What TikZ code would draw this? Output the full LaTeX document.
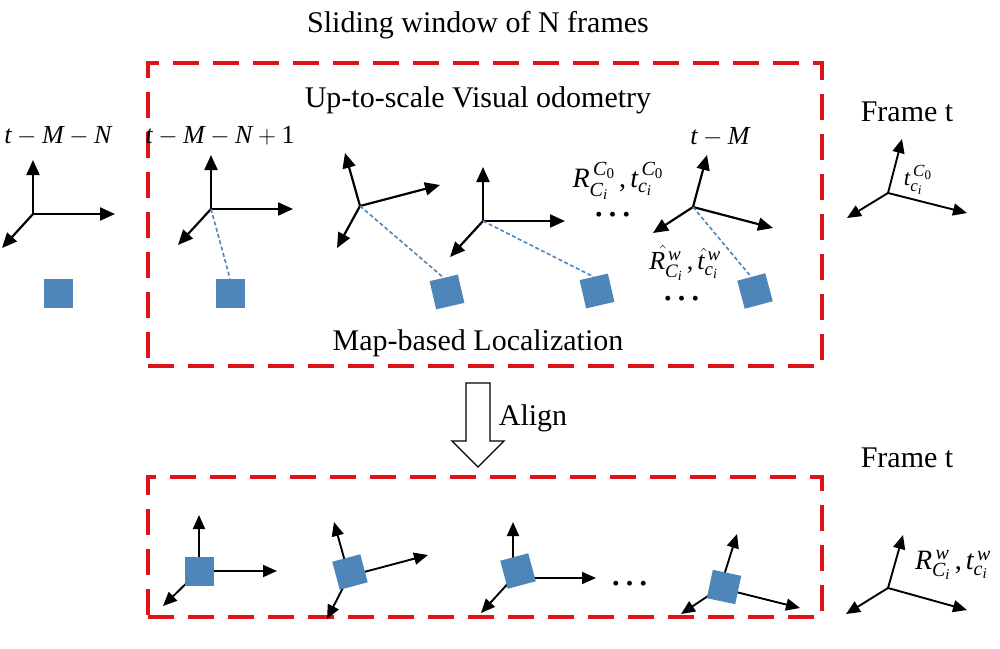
\documentclass[tikz,border=0pt]{standalone}
\usepackage{amsmath}
\usepackage{fontspec}
\setmainfont{Liberation Serif}
\usetikzlibrary{arrows.meta}
\definecolor{boxred}{RGB}{222,18,24}
\definecolor{sqblue}{RGB}{79,134,186}
\newcommand{\mv}[1]{\textit{#1}}
\DeclareMathSizes{28}{28}{20}{15}
\DeclareMathSizes{26}{26}{19}{14}
\DeclareMathSizes{23}{23}{17}{13}
\begin{document}
\begin{tikzpicture}[x=1pt,y=-1pt,
  ax/.style={line width=2.2pt,-{Triangle[length=15pt,width=13pt]}},
  axs/.style={line width=1.9pt,-{Triangle[length=14pt,width=12pt]}},
  sq/.style={fill=sqblue,minimum size=29pt,inner sep=0pt,outer sep=0pt},
  link/.style={sqblue,line width=1.6pt,dash pattern=on 4pt off 2.5pt},
  win/.style={draw=boxred,line width=3.5pt,dash pattern=on 26pt off 14pt,inner sep=0pt},
  txt/.style={font=\fontsize{30}{36}\selectfont,inner sep=0pt},
  lbl/.style={inner sep=0pt},
  dots/.style={font=\fontsize{41}{41}\selectfont,inner sep=0pt,text height=5pt,text depth=0pt}
]
\useasboundingbox (0,0) rectangle (1000,648);

% windows
\node[win,minimum width=674pt,minimum height=303pt] (win1) at (485,214.5) {};
\node[win,minimum width=674pt,minimum height=140pt] (win2) at (485,547) {};

% titles
\node[txt] (title) at (478,25) {Sliding window of N frames};
\node[txt] (vo) at (478,100) {Up-to-scale Visual odometry};
\node[txt] (mbl) at (478,343) {Map-based Localization};
\node[txt] (align) at (533,418) {Align};
\node[txt] (ft1) at (907,112) {Frame t};
\node[txt] (ft2) at (907,458) {Frame t};

% frame labels
\node[lbl,font=\fontsize{26}{30}\selectfont] (l0) at (58,136) {$\mv{t}-\mv{M}-\mv{N}$};
\node[lbl,font=\fontsize{26}{30}\selectfont] (l1) at (220,136) {$\mv{t}-\mv{M}-\mv{N}+\text{1}$};
\node[lbl,font=\fontsize{26}{30}\selectfont] (l4) at (720,137) {$\mv{t}-\mv{M}$};

% coordinates of frames
\coordinate (f0) at (33,214); \coordinate (f0y) at (33,160); \coordinate (f0x) at (115,214); \coordinate (f0z) at (2,248);
\coordinate (f1) at (211,209); \coordinate (f1y) at (211,155); \coordinate (f1x) at (293,209); \coordinate (f1z) at (178,245);
\coordinate (f2) at (360,206); \coordinate (f2y) at (345,153); \coordinate (f2x) at (440,185); \coordinate (f2z) at (337,248);
\coordinate (f3) at (483,221); \coordinate (f3y) at (483,167); \coordinate (f3x) at (565,221); \coordinate (f3z) at (450,257);
\coordinate (f4) at (693,207); \coordinate (f4y) at (707,155); \coordinate (f4x) at (773,228); \coordinate (f4z) at (653,233);
\coordinate (ft) at (888,193); \coordinate (fty) at (902,139); \coordinate (ftx) at (967,213); \coordinate (ftz) at (847,218);

\coordinate (b1) at (199,571); \coordinate (b1y) at (199,515); \coordinate (b1x) at (277,571); \coordinate (b1z) at (163,606);
\coordinate (b2) at (349,576); \coordinate (b2y) at (334,522); \coordinate (b2x) at (428,555); \coordinate (b2z) at (327,619);
\coordinate (b3) at (513,578); \coordinate (b3y) at (513,522); \coordinate (b3x) at (596,578); \coordinate (b3z) at (481,613);
\coordinate (b4) at (720,588); \coordinate (b4y) at (737,534); \coordinate (b4x) at (800,608); \coordinate (b4z) at (681,614);
\coordinate (bt) at (888,588); \coordinate (bty) at (903,535); \coordinate (btx) at (967,610); \coordinate (btz) at (846,614);

% top axes
\foreach \f in {f0,f1,f2,f3,f4}{
  \draw[ax] (\f) -- (\f y);
  \draw[ax] (\f) -- (\f x);
  \draw[ax] (\f) -- (\f z);
}
\draw[axs] (ft) -- (fty);
\draw[axs] (ft) -- (ftx);
\draw[axs] (ft) -- (ftz);

% bottom axes
\foreach \f in {b1,b2,b3,b4}{
  \draw[axs] (\f) -- (\f y);
  \draw[axs] (\f) -- (\f x);
  \draw[axs] (\f) -- (\f z);
}
\draw[axs] (bt) -- (bty);
\draw[axs] (bt) -- (btx);
\draw[axs] (bt) -- (btz);

% top squares
\node[sq] (s0) at (58,293) {};
\node[sq] (s1) at (230,293) {};
\node[sq,rotate=13] (s2) at (447,292) {};
\node[sq,rotate=13] (s3) at (597,291) {};
\node[sq,rotate=15] (s4) at (755,291) {};

% links
\draw[link] (f1) -- (s1.north);
\draw[link] (f2) -- (s2.north);
\draw[link] (f3) -- (s3.north);
\draw[link] (f4) -- (s4.north);

% bottom squares
\node[sq] (q1) at (199,571) {};
\node[sq,rotate=15] (q2) at (350,572) {};
\node[sq,rotate=15] (q3) at (518,571) {};
\node[sq,rotate=-12] (q4) at (724,587) {};

% math labels
\node[lbl,font=\fontsize{28}{30}\selectfont] (rt) at (618,181)
  {$\mv{R}^{\,\mv{C}_{\text{0}}}_{\mv{C}_{\mv{i}}}\,\text{,}\,\mv{t}^{\,\mv{C}_{\text{0}}}_{\mv{c}_{\mv{i}}}$};
\node[lbl,font=\fontsize{26}{28}\selectfont] (rh) at (685,263)
  {$\skew{8}{\hat}{\mv{R}}^{\,\mv{w}}_{\mv{C}_{\mv{i}}}\,\text{,}\,\skew{4}{\hat}{\mv{t}}^{\,\mv{w}}_{\mv{c}_{\mv{i}}}$};
\node[lbl,font=\fontsize{23}{25}\selectfont] (tt) at (918,180)
  {$\mv{t}^{\,\mv{C}_{\text{0}}}_{\mv{c}_{\mv{i}}}$};
\node[lbl,font=\fontsize{28}{30}\selectfont] (rw) at (953,565)
  {$\mv{R}^{\,\mv{w}}_{\mv{C}_{\mv{i}}}\,\text{,}\,\mv{t}^{\,\mv{w}}_{\mv{c}_{\mv{i}}}$};

% dots
\node[dots,anchor=base] (d1) at (613,216) {…};
\node[dots,anchor=base] (d2) at (682,300) {…};
\node[dots,anchor=base] (d3) at (630,585) {…};

% align arrow
\draw[line width=1.3pt,fill=white] (466,383) -- (490,383) -- (490,441) -- (504,441)
  -- (478,467) -- (452,441) -- (466,441) -- cycle;
\end{tikzpicture}
\end{document}
